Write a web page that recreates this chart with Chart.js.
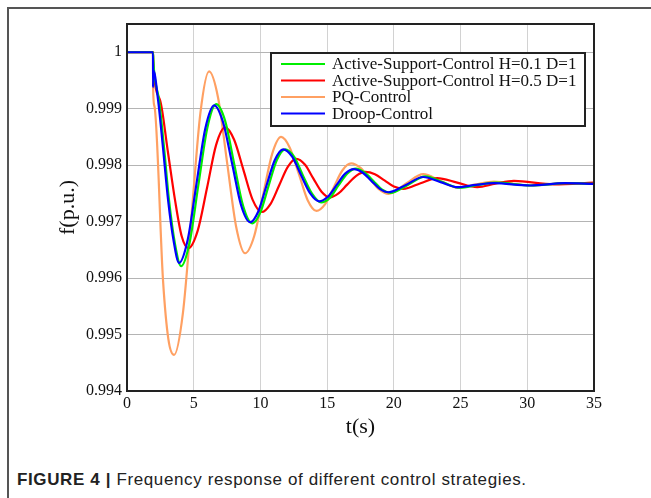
<!DOCTYPE html>
<html>
<head>
<meta charset="utf-8">
<script src="https://cdn.jsdelivr.net/npm/chart.js@4.4.1/dist/chart.umd.min.js"></script>
<style>
  html, body { margin: 0; padding: 0; background: #fff; }
  #wrap { position: relative; width: 651px; height: 498px; overflow: hidden; }
  #frame { position: absolute; left: 7px; top: 7px; width: 700px; height: 600px;
           border-left: 2px solid #555; border-top: 2px solid #555; }
  #chart { position: absolute; left: 0; top: 0; }
  #caption { position: absolute; left: 17px; top: 470px; font-family: "Liberation Sans", Arial, sans-serif;
             font-size: 17px; letter-spacing: 0.62px; color: #222; white-space: nowrap; }
</style>
</head>
<body>
<div id="wrap">
  <div id="frame"></div>
  <canvas id="chart" width="651" height="450"></canvas>
  <div id="caption"><b>FIGURE 4 |</b> Frequency response of different control strategies.</div>
</div>
<script>
// values
const seriesNames = [
  'Active-Support-Control H=0.1 D=1',
  'Active-Support-Control H=0.5 D=1',
  'PQ-Control',
  'Droop-Control'
];

const xTickValues = [0, 5, 10, 15, 20, 25, 30, 35];
const yTickValues = [0.994, 0.995, 0.996, 0.997, 0.998, 0.999, 1];
const yTickLabels = ['0.994', '0.995', '0.996', '0.997', '0.998', '0.999', '1'];

const asc01Time = [0, 1.95, 2.0, 2.4, 2.78, 3.15, 3.6, 4.05, 4.7, 5.35, 6.02, 6.68, 7.36, 8.03, 8.7, 9.38,
  9.99, 10.6, 11.23, 11.85, 12.52, 13.2, 13.88, 14.55, 15.2, 15.85, 16.5, 17.15, 17.8, 18.45, 19.1, 19.75,
  21.05, 22.35, 23.65, 24.95, 26.3, 27.65, 30.3, 32.9, 35];
const asc01Freq = [1, 1, 0.99975, 0.99915, 0.9983, 0.99738, 0.9966, 0.99621, 0.99664, 0.99765, 0.99866,
  0.99908, 0.99878, 0.998025, 0.99728, 0.99697, 0.99716, 0.997625, 0.99809, 0.99828, 0.99815, 0.99781,
  0.99749, 0.99734, 0.99742, 0.99764, 0.99785, 0.99794, 0.99787, 0.997725, 0.99757, 0.99751,
  0.99765, 0.9978, 0.9977, 0.9976, 0.99765, 0.99769, 0.99764, 0.99768, 0.99767];

const asc05Time = [0, 1.95, 1.96, 2.48, 3.05, 3.6, 4.1, 4.6, 5.3, 6.0, 6.68, 7.35, 8.03, 8.72, 9.41, 10.1,
  10.75, 11.4, 12.05, 12.7, 13.33, 13.95, 14.58, 15.2, 15.85, 16.5, 17.18, 17.85, 18.58, 19.3, 20.0, 20.7,
  22.0, 23.25, 24.75, 26.25, 27.6, 29.0, 32, 35];
const asc05Freq = [1, 1, 0.99986, 0.99915, 0.99826, 0.99738, 0.99674, 0.99653, 0.99684, 0.9976, 0.99836,
  0.99867, 0.99845, 0.99792, 0.99739, 0.99717, 0.99731, 0.99764, 0.99797, 0.99811, 0.99801, 0.99777,
  0.99753, 0.99743, 0.9975, 0.997655, 0.99781, 0.99788, 0.99784, 0.99773, 0.99762, 0.99758,
  0.99768, 0.99777, 0.99769, 0.99761, 0.99767, 0.99772, 0.99766, 0.99769];

const pqTime = [0, 1.95, 1.955, 2.05, 2.7, 3.1, 3.53, 4.19, 4.85, 5.5, 6.15, 6.83, 7.5, 8.18, 8.85, 9.53,
  10.2, 10.88, 11.55, 12.2, 12.88, 13.54, 14.2, 14.85, 15.5, 16.15, 16.8, 17.5, 18.2, 18.9, 19.6,
  20.9, 22.2, 23.5, 24.8, 26.15, 27.5, 30.2, 32.8, 35];
const pqFreq = [1, 1, 0.99938, 0.99905, 0.99596, 0.99492, 0.99464, 0.99538, 0.99715, 0.99892, 0.99966,
  0.99919, 0.99805, 0.99691, 0.99644, 0.99674, 0.99747, 0.9982, 0.9985, 0.99831, 0.997845, 0.99738,
  0.99719, 0.99731, 0.99761, 0.99791, 0.99803, 0.99795, 0.99776, 0.99757, 0.99749,
  0.99767, 0.99784, 0.99772, 0.9976, 0.99766, 0.99771, 0.99764, 0.99768, 0.99767];

const droopTime = [0, 1.95, 1.955, 1.975, 2.33, 2.7, 3.08, 3.5, 3.9, 4.55, 5.2, 5.87, 6.53, 7.2, 7.88, 8.55,
  9.23, 9.84, 10.45, 11.08, 11.7, 12.38, 13.05, 13.73, 14.4, 15.05, 15.7, 16.35, 17.0, 17.65, 18.3, 18.95,
  19.6, 20.9, 22.2, 23.5, 24.8, 26.15, 27.5, 30.2, 32.8, 35];
const droopFreq = [1, 1, 0.99938, 0.99968, 0.99915, 0.9983, 0.99738, 0.99665, 0.99627, 0.99668, 0.99766,
  0.99865, 0.99906, 0.99876, 0.998025, 0.99729, 0.99699, 0.99718, 0.997635, 0.99809, 0.99828, 0.99815,
  0.99782, 0.9975, 0.99736, 0.99744, 0.997645, 0.99785, 0.99793, 0.99787, 0.997725, 0.99758,
  0.99752, 0.99765, 0.99779, 0.9977, 0.99761, 0.99765, 0.99768, 0.99764, 0.99768, 0.99767];

const lineColors = ['#00ee00', '#ff0000', '#ffa062', '#0000ff'];

function toPoints(ts, fs) {
  return ts.map((t, i) => ({ x: t, y: fs[i] }));
}

const serif = 'Liberation Serif, Times New Roman, serif';

// legend box drawn inside the plot, like the original
const boxLegend = {
  id: 'boxLegend',
  afterDraw(chart) {
    const ctx = chart.ctx;
    const area = chart.chartArea;
    ctx.save();
    // plot frame
    ctx.strokeStyle = '#222';
    ctx.lineWidth = 2;
    ctx.strokeRect(area.left, area.top, area.right - area.left, area.bottom - area.top);

    const x0 = 271, y0 = 53, w = 314, h = 73;
    ctx.fillStyle = '#fff';
    ctx.fillRect(x0, y0, w, h);
    ctx.strokeRect(x0, y0, w, h);
    ctx.font = '17px ' + serif;
    ctx.textBaseline = 'middle';
    chart.data.datasets.forEach((ds, i) => {
      const y = y0 + 11 + i * 16.5;
      ctx.strokeStyle = ds.borderColor;
      ctx.lineWidth = 2;
      ctx.beginPath();
      ctx.moveTo(x0 + 10, y);
      ctx.lineTo(x0 + 54, y);
      ctx.stroke();
      ctx.fillStyle = '#111';
      ctx.fillText(ds.label, x0 + 61, y + 1);
    });
    ctx.restore();
  }
};

new Chart(document.getElementById('chart'), {
  type: 'line',
  data: {
    datasets: [
      { label: seriesNames[0], data: toPoints(asc01Time, asc01Freq), borderColor: lineColors[0], order: 1 },
      { label: seriesNames[1], data: toPoints(asc05Time, asc05Freq), borderColor: lineColors[1], order: 2 },
      { label: seriesNames[2], data: toPoints(pqTime, pqFreq), borderColor: lineColors[2], order: 3 },
      { label: seriesNames[3], data: toPoints(droopTime, droopFreq), borderColor: lineColors[3], order: 0 }
    ]
  },
  options: {
    responsive: false,
    animation: false,
    events: [],
    layout: { padding: { top: 24, right: 57, bottom: 0, left: 0 } },
    elements: {
      point: { radius: 0 },
      line: { borderWidth: 2.2, cubicInterpolationMode: 'monotone', fill: false }
    },
    plugins: { legend: { display: false }, tooltip: { enabled: false } },
    scales: {
      x: {
        type: 'linear',
        min: 0,
        max: 35,
        afterBuildTicks: (scale) => { scale.ticks = xTickValues.map(v => ({ value: v })); },
        afterFit: (scale) => { scale.height = 59; },
        ticks: { font: { family: serif, size: 16 }, color: '#111', padding: 3, maxRotation: 0, autoSkip: false },
        grid: { color: '#d2d2d2', lineWidth: 1, drawTicks: false },
        border: { display: false },
        title: { display: true, text: 't(s)', font: { family: serif, size: 22 }, color: '#111',
                 padding: { top: 0, bottom: 10 } }
      },
      y: {
        min: 0.994,
        max: 1.0005,
        afterBuildTicks: (scale) => { scale.ticks = yTickValues.map(v => ({ value: v })); },
        afterFit: (scale) => { scale.width = 127; },
        ticks: {
          font: { family: serif, size: 16 }, color: '#111', padding: 5,
          callback: (v) => yTickLabels[yTickValues.indexOf(v)]
        },
        grid: { color: '#b4b4b4', lineWidth: 1, drawTicks: false },
        border: { display: false },
        title: { display: true, text: 'f(p.u.)', font: { family: serif, size: 22 }, color: '#111',
                 padding: { top: 55, bottom: 0 } }
      }
    }
  },
  plugins: [boxLegend]
});
</script>
</body>
</html>
